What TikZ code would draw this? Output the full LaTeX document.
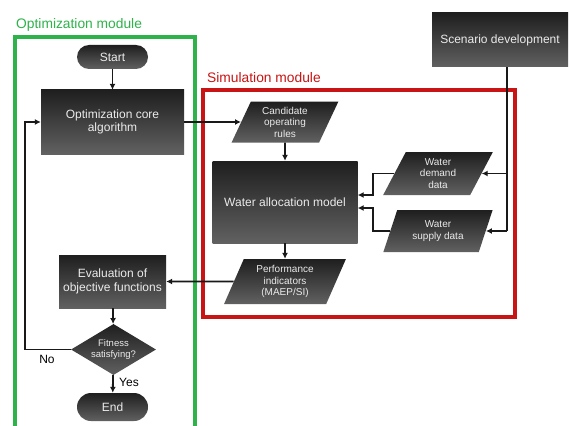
\documentclass[tikz,border=0pt]{standalone}
\usepackage{fontspec}
\setmainfont{Liberation Sans}
\usetikzlibrary{shapes.geometric,arrows.meta}
\definecolor{optgreen}{HTML}{2DB34A}
\definecolor{simred}{HTML}{C81414}
\begin{document}
\begin{tikzpicture}[x=1pt,y=-1pt,
  dark/.style={top color=black!88, bottom color=black!62, text=black!8, align=center, inner sep=1pt, font=\fontsize{12}{13.5}\selectfont},
  proc/.style={dark, rectangle},
  term/.style={dark, rectangle, rounded corners=12pt},
  io/.style={dark, trapezium, trapezium left angle=67, trapezium right angle=113, trapezium stretches=true, inner sep=0pt, font=\fontsize{10}{11.5}\selectfont},
  arr/.style={draw=black!90, line width=1.8pt, -{Latex[length=6pt,width=6pt]}},
  ln/.style={draw=black!90, line width=1.8pt},
  modtitle/.style={anchor=west, inner sep=0pt, font=\fontsize{13.8}{15}\selectfont}]
\clip (0,0) rectangle (569,425);
\fill[white] (0,0) rectangle (569,425);

% module frames
\draw[optgreen, line width=3.2pt] (15,37) rectangle (195,440);
\node[modtitle, text=optgreen] (optlabel) at (16,25) {Optimization module};
\draw[simred, line width=3.2pt] (203,90) rectangle (515,317);
\node[modtitle, text=simred] (simlabel) at (207,78) {Simulation module};

% nodes
\node[term, minimum width=71pt, minimum height=24pt] (start) at (112.5,57) {Start};
\node[proc, minimum width=143pt, minimum height=64pt] (core) at (112.5,122) {Optimization core\\algorithm};
\node[proc, minimum width=107pt, minimum height=53pt] (eval) at (112.5,281.5) {Evaluation of\\objective functions};
\node[dark, diamond, aspect=1.67, inner sep=0pt, minimum width=85pt, minimum height=51pt, font=\fontsize{9.5}{11}\selectfont] (dia) at (113.5,349.5) {Fitness\\satisfying?};
\node[term, rounded corners=14pt, minimum width=71pt, minimum height=28pt] (end) at (112.5,407) {End};

\node[io, minimum width=107pt, minimum height=41pt] (cand) at (285,122) {Candidate\\operating\\rules};
\node[proc, minimum width=145pt, minimum height=82pt] (wam) at (285,202) {Water allocation model};
\node[io, minimum width=122pt, minimum height=45pt] (perf) at (285,281.5) {Performance\\indicators\\(MAEP/SI)};
\node[io, minimum width=110pt, minimum height=43pt] (dem) at (438,173.5) {Water\\demand\\data};
\node[io, minimum width=110pt, minimum height=42pt] (sup) at (438,231) {Water\\supply data};
\node[proc, minimum width=136pt, minimum height=54pt] (scen) at (500,40) {Scenario development};

% connectors
\draw[arr] (start) -- (core);
\draw[arr] (core) -- (cand);
\draw[arr] (cand) -- (wam);
\draw[arr] (wam) -- (perf);
\draw[arr] (perf) -- (eval);
\draw[arr] (eval) -- (dia);
\draw[arr] (dia) -- (end);
\coordinate (loopx) at (25,0);
\draw[arr] (dia.west) -- (loopx |- dia.west) |- (core.west);
\node[inner sep=0pt, font=\fontsize{12}{13}\selectfont] (no) at (47,359) {No};
\node[inner sep=0pt, font=\fontsize{12}{13}\selectfont] (yes) at (129,382) {Yes};

\coordinate (sx) at ([xshift=7pt]scen.south);
\draw[ln] (sx) -- (sx |- sup.east);
\draw[arr] (sx |- dem.east) -- (dem.east);
\draw[arr] (sx |- sup.east) -- (sup.east);

\coordinate (jx) at (373,0);
\draw[arr] (dem.west) -- (jx |- dem.west) |- ([yshift=7pt]wam.east);
\draw[arr] (sup.west) -- (jx |- sup.west) |- ([yshift=-6pt]wam.east);
\end{tikzpicture}
\end{document}
